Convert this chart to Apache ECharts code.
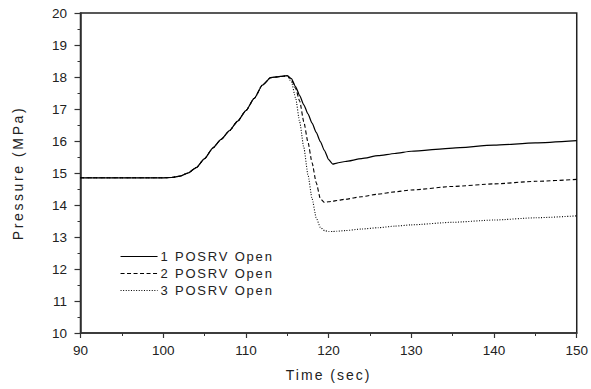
<!DOCTYPE html>
<html>
<head>
<meta charset="utf-8">
<script src="https://cdn.jsdelivr.net/npm/echarts@6/dist/echarts.min.js"></script>
<style>
  html, body { margin: 0; padding: 0; background: #fff; }
  #chart { width: 591px; height: 389px; }
</style>
</head>
<body>
<div id="chart"></div>
<script>
// Pressure transient after opening 1, 2 or 3 POSRVs
const timeSec = [90, 95, 100, 101, 102, 103, 104, 105, 106, 107, 108, 109, 110, 111, 112, 113, 114, 115,
  115.5, 116, 116.5, 117, 117.5, 118, 118.5, 119, 119.5, 120, 120.5, 121, 122, 124, 126, 128, 130, 135, 140, 145, 150];

const oneValve = [14.85, 14.85, 14.85, 14.86, 14.90, 15.00, 15.17, 15.45, 15.78, 16.05, 16.32, 16.62, 16.95, 17.33, 17.75, 17.98, 18.01, 18.04,
  17.95, 17.70, 17.42, 17.13, 16.85, 16.56, 16.27, 15.98, 15.70, 15.42, 15.28, 15.31, 15.36, 15.45, 15.54, 15.61, 15.68, 15.78, 15.87, 15.94, 16.01];

const twoValves = [14.85, 14.85, 14.85, 14.86, 14.90, 15.00, 15.17, 15.45, 15.78, 16.05, 16.32, 16.62, 16.95, 17.33, 17.75, 17.98, 18.01, 18.04,
  17.92, 17.65, 17.25, 16.60, 15.97, 15.32, 14.70, 14.20, 14.08, 14.10, 14.12, 14.14, 14.18, 14.26, 14.34, 14.41, 14.47, 14.58, 14.66, 14.74, 14.80];

const threeValves = [14.85, 14.85, 14.85, 14.86, 14.90, 15.00, 15.17, 15.45, 15.78, 16.05, 16.32, 16.62, 16.95, 17.33, 17.75, 17.98, 18.01, 18.03,
  17.85, 17.35, 16.60, 15.80, 14.95, 14.20, 13.60, 13.30, 13.20, 13.17, 13.17, 13.18, 13.20, 13.25, 13.29, 13.34, 13.38, 13.46, 13.53, 13.60, 13.66];

const seriesNames = ['1 POSRV Open', '2 POSRV Open', '3 POSRV Open'];
const xTitle = 'Time (sec)';
const yTitle = 'Pressure (MPa)';

const pairs = vals => timeSec.map((t, i) => [t, vals[i]]);

const font = 'Liberation Sans, Arial, sans-serif';
const axisColor = '#333';

const chart = echarts.init(document.getElementById('chart'), null, { renderer: 'svg' });

const lineSeries = (name, vals, type, width) => ({
  name: name,
  type: 'line',
  data: pairs(vals),
  showSymbol: false,
  symbol: 'none',
  smooth: 0.2,
  smoothMonotone: 'x',
  lineStyle: { color: '#000', width: width, type: type },
  itemStyle: { color: '#000' },
  z: 3
});

chart.setOption({
  animation: false,
  backgroundColor: '#fff',
  textStyle: { fontFamily: font },
  grid: {
    left: 80.5, right: 12.5, top: 13, bottom: 56,
    show: true, borderColor: '#222', borderWidth: 1.5, backgroundColor: 'transparent'
  },
  legend: {
    orient: 'vertical',
    left: 115, top: 245,
    itemWidth: 37, itemHeight: 10, itemGap: 4,
    data: seriesNames,
    itemStyle: { opacity: 0 },
    lineStyle: { width: 1.1 },
    textStyle: { fontFamily: font, fontSize: 13, color: '#222', padding: [0, 0, 0, -2] }
  },
  xAxis: {
    type: 'value',
    min: 90, max: 150, interval: 10,
    name: xTitle,
    nameLocation: 'middle',
    nameGap: 35,
    nameTextStyle: { fontFamily: font, fontSize: 14, color: '#222' },
    axisLine: { onZero: false, lineStyle: { color: axisColor, width: 1.5 } },
    axisTick: { show: true, length: 5, lineStyle: { color: axisColor, width: 1.2 } },
    minorTick: { show: true, splitNumber: 2, length: 3, lineStyle: { color: axisColor, width: 1 } },
    splitLine: { show: false },
    axisLabel: { fontFamily: font, fontSize: 13.5, color: '#222', margin: 10 }
  },
  yAxis: {
    type: 'value',
    min: 10, max: 20, interval: 1,
    name: yTitle,
    nameLocation: 'middle',
    nameGap: 56,
    nameRotate: 90,
    nameTextStyle: { fontFamily: font, fontSize: 14, color: '#222' },
    axisLine: { onZero: false, lineStyle: { color: axisColor, width: 1.5 } },
    axisTick: { show: true, length: 6, lineStyle: { color: axisColor, width: 1.2 } },
    minorTick: { show: true, splitNumber: 2, length: 3, lineStyle: { color: axisColor, width: 1 } },
    splitLine: { show: false },
    axisLabel: { fontFamily: font, fontSize: 13.5, color: '#222', margin: 13.5 }
  },
  series: [
    lineSeries(seriesNames[0], oneValve, 'solid', 1.2),
    lineSeries(seriesNames[1], twoValves, [4, 2.5], 1.1),
    lineSeries(seriesNames[2], threeValves, [1, 1.6], 1.1)
  ]
});

// widen the tracking of titles and legend labels
const spacing = { [xTitle]: '2px', [yTitle]: '2.6px' };
seriesNames.forEach(n => { spacing[n] = '1.8px'; });
document.querySelectorAll('#chart text').forEach(el => {
  const s = spacing[el.textContent];
  if (s) el.style.letterSpacing = s;
});
</script>
</body>
</html>
